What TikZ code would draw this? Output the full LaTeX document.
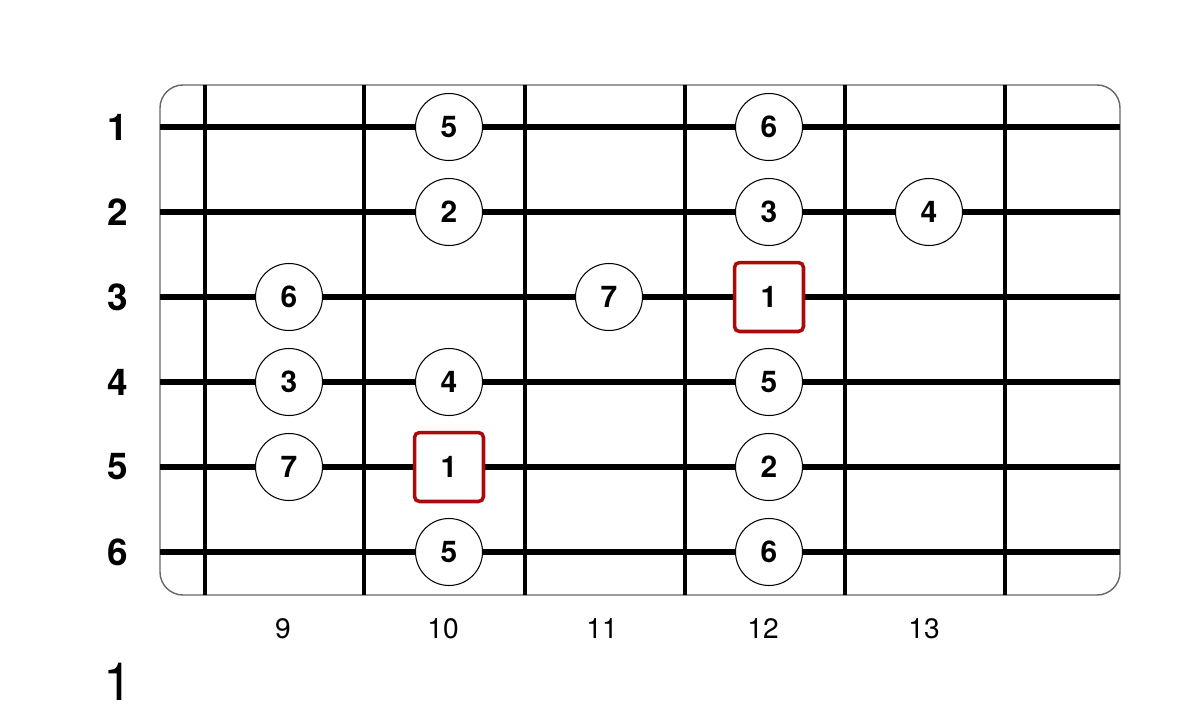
\documentclass[tikz,border=0pt]{standalone}
\usepackage{fontspec}
\setmainfont{TeX Gyre Heros}
\usepackage{tikz}
\usetikzlibrary{positioning}

\tikzset{
	note/.style={circle, draw, line width=0.6pt, fill=white, minimum size=1.34cm, inner sep=0pt, font=\bfseries\fontsize{17}{19}\selectfont},
	root/.style={rectangle, draw=rootred, line width=2pt, rounded corners=0.1cm, fill=white, minimum size=1.38cm, inner sep=0pt, font=\bfseries\fontsize{17}{19}\selectfont},
	stringlabel/.style={font=\bfseries\fontsize{21}{24}\selectfont},
	fretlabel/.style={font=\fontsize{16}{18}\selectfont},
}
\definecolor{rootred}{RGB}{170,10,10}

\begin{document}
\begin{tikzpicture}[x=0.02cm, y=-0.02cm]
		\useasboundingbox (0,0) rectangle (1200,723);
		\coordinate (TL) at (160, 85);
		\coordinate (BR) at (1120, 595);
		\draw[gray!80!black, line width=0.8pt, rounded corners=0.46cm] (TL) rectangle (BR);
		% frets
		\draw[line width=2pt] (205,85)--(205,595);
		\draw[line width=2pt] (364,85)--(364,595);
		\draw[line width=2pt] (525,85)--(525,595);
		\draw[line width=2pt] (685,85)--(685,595);
		\draw[line width=2pt] (845,85)--(845,595);
		\draw[line width=2pt] (1005,85)--(1005,595);
		% strings
		\draw[line width=3.3pt] (160,127)--(1120,127);
		\draw[line width=3.3pt] (160,212)--(1120,212);
		\draw[line width=3.3pt] (160,297)--(1120,297);
		\draw[line width=3.3pt] (160,382)--(1120,382);
		\draw[line width=3.3pt] (160,467)--(1120,467);
		\draw[line width=3.3pt] (160,552)--(1120,552);
		\node[stringlabel] (s1) at (118,127) {1};
		\node[stringlabel] (s2) at (118,212) {2};
		\node[stringlabel] (s3) at (118,297) {3};
		\node[stringlabel] (s4) at (118,382) {4};
		\node[stringlabel] (s5) at (118,467) {5};
		\node[stringlabel] (s6) at (118,552) {6};
		\node[fretlabel] (f9) at (283,629) {9};
		\node[fretlabel] (f10) at (443,629) {10};
		\node[fretlabel] (f11) at (602,629) {11};
		\node[fretlabel] (f12) at (763,629) {12};
		\node[fretlabel] (f13) at (924,629) {13};
		\node[font=\fontsize{30}{32}\selectfont] (pos) at (118,682) {1};
		% notes
		\node[note] (a) at (449,127) {5};
		\node[note] (b) at (769,127) {6};
		\node[note] (c) at (449,212) {2};
		\node[note] (d) at (769,212) {3};
		\node[note] (e) at (929,212) {4};
		\node[note] (f) at (289,297) {6};
		\node[note] (g) at (609,297) {7};
		\node[root] (r1) at (769,297) {1};
		\node[note] (h) at (289,382) {3};
		\node[note] (i) at (449,382) {4};
		\node[note] (j) at (769,382) {5};
		\node[note] (k) at (289,467) {7};
		\node[root] (r2) at (449,467) {1};
		\node[note] (l) at (769,467) {2};
		\node[note] (m) at (449,552) {5};
		\node[note] (n) at (769,552) {6};
	\end{tikzpicture}
\end{document}
